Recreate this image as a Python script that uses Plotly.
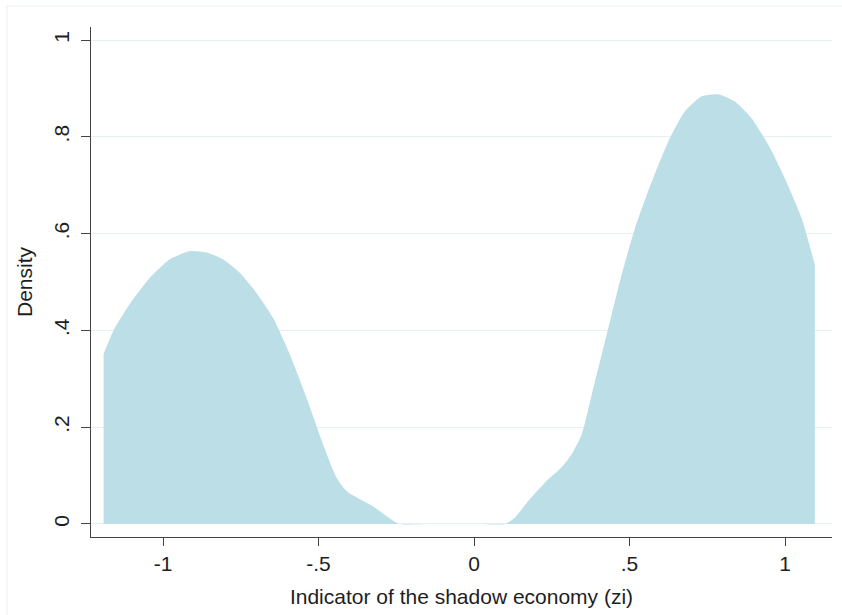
import plotly.graph_objects as go

# Kernel density estimate of the shadow-economy indicator (zi)
zi = [-1.191, -1.159, -1.100, -1.042, -0.978, -0.913, -0.860, -0.807, -0.753,
      -0.700, -0.646, -0.593, -0.539, -0.486, -0.443, -0.420, -0.400, -0.379,
      -0.326, -0.272, -0.240, -0.150, 0.000, 0.101, 0.133, 0.176, 0.230,
      0.283, 0.315, 0.347, 0.379, 0.411, 0.443, 0.475, 0.518, 0.572, 0.625,
      0.678, 0.732, 0.785, 0.839, 0.892, 0.946, 0.999, 1.053, 1.096]
density = [0.352, 0.400, 0.461, 0.509, 0.547, 0.564, 0.561, 0.547, 0.519,
           0.478, 0.426, 0.352, 0.262, 0.166, 0.097, 0.075, 0.063, 0.056,
           0.037, 0.012, 0.000, 0.000, 0.000, 0.000, 0.014, 0.049, 0.087,
           0.118, 0.145, 0.186, 0.268, 0.351, 0.434, 0.516, 0.612, 0.708, 0.791,
           0.853, 0.884, 0.888, 0.873, 0.839, 0.784, 0.715, 0.633, 0.536]

x_ticks = [-1, -0.5, 0, 0.5, 1]
x_labels = ["-1", "-.5", "0", ".5", "1"]
y_ticks = [0, 0.2, 0.4, 0.6, 0.8, 1]
y_labels = ["0", ".2", ".4", ".6", ".8", "1"]

FONT = "Liberation Sans, Arial, sans-serif"
FS = 21
TXT = "#1e1e1e"
AXIS = "#444444"
GRID = "#e6f0f2"

fig = go.Figure(go.Scatter(
    x=zi, y=density, mode="lines", fill="tozeroy",
    line=dict(width=0, color="#bcdfe7", shape="spline", smoothing=0.5),
    fillcolor="#bcdfe7",
    hoverinfo="skip", showlegend=False,
))

fig.update_layout(
    width=842, height=615,
    margin=dict(l=91, r=10, t=27, b=78),
    paper_bgcolor="white", plot_bgcolor="white",
    font=dict(family=FONT, size=FS, color=TXT),
    shapes=[dict(type="rect", xref="paper", yref="paper",
                 x0=-0.1134, y0=-0.2, x1=1.2, y1=1.0412,
                 line=dict(color="#e8f0f2", width=1), layer="below")],
)

fig.update_xaxes(
    range=[-1.2315, 1.1511], tickvals=x_ticks, ticktext=x_labels,
    showgrid=False, zeroline=False,
    showline=True, linecolor=AXIS, linewidth=1.3,
    ticks="outside", ticklen=8, tickwidth=1.3, tickcolor=AXIS,
    tickfont=dict(size=FS, color=TXT),
    title=dict(text="Indicator of the shadow economy (zi)",
               font=dict(size=FS, color=TXT), standoff=14),
)
fig.update_yaxes(
    range=[-0.0269, 1.0269], tickvals=y_ticks, ticktext=y_labels,
    tickangle=-90, ticklabelstandoff=3,
    showgrid=True, gridcolor=GRID, gridwidth=1, zeroline=False,
    showline=True, linecolor=AXIS, linewidth=1.3,
    ticks="outside", ticklen=9, tickwidth=1.3, tickcolor=AXIS,
    tickfont=dict(size=FS, color=TXT),
    title=dict(text="Density", font=dict(size=FS, color=TXT), standoff=12),
)

fig.write_html("out.html")
